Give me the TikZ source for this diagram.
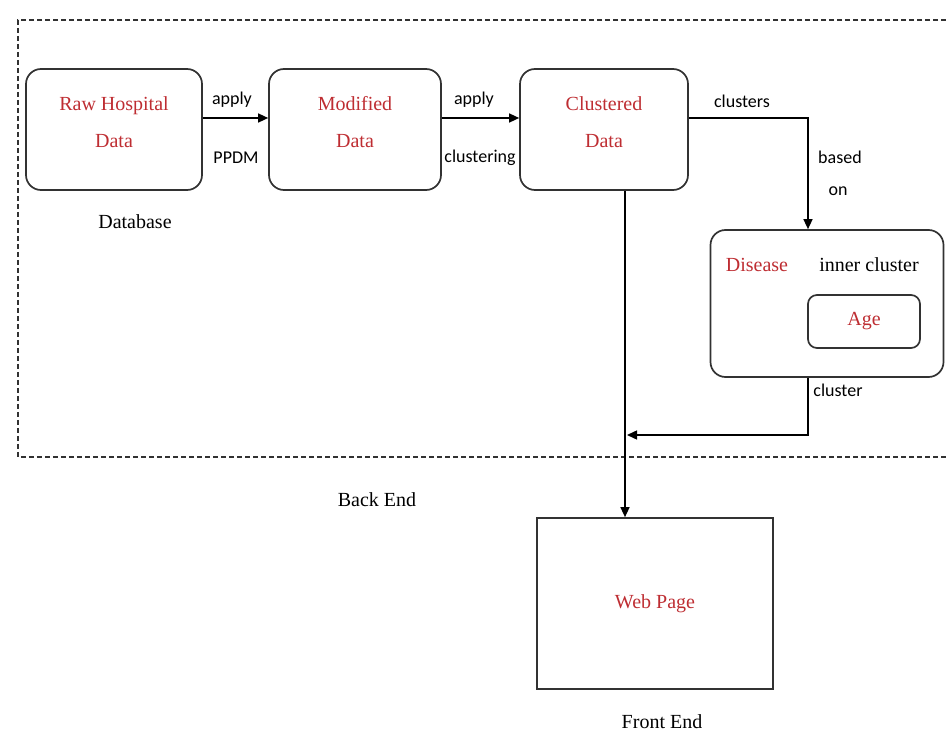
\documentclass[tikz,border=0pt]{standalone}
\usepackage{fontspec}
\setmainfont{Liberation Serif}
\newfontfamily\lblsans{Carlito}
\usetikzlibrary{arrows.meta}
\definecolor{boxred}{RGB}{190,45,50}
\definecolor{edge}{RGB}{50,50,50}
\begin{document}
\begin{tikzpicture}[x=1pt,y=-1pt,
  box/.style={draw=edge,line width=1.7pt,rounded corners=15pt,inner sep=0pt},
  boxtext/.style={align=center,text=boxred,font=\fontsize{20}{37}\selectfont,inner sep=0pt},
  sqbox/.style={draw=edge,line width=1.7pt,align=center,text=boxred,
    font=\fontsize{20}{24}\selectfont,inner sep=0pt},
  conn/.style={draw=black,line width=1.5pt,-{Triangle[length=10pt,width=9pt]}},
  sanslbl/.style={font=\lblsans\fontsize{18}{20}\selectfont,inner sep=0pt},
  seriflbl/.style={font=\fontsize{20}{24}\selectfont,inner sep=0pt},
  redlbl/.style={font=\fontsize{20}{24}\selectfont,inner sep=0pt,text=boxred},
  border/.style={draw=edge,line width=1.4pt,dash pattern=on 5pt off 3pt}]
\useasboundingbox (0,0) rectangle (946,735);

% dashed back-end border
\draw[border] (946,20) -- (18,20) -- (18,457) -- (946,457);

% boxes
\node[box,minimum width=176pt,minimum height=121pt] (raw) at (114,129.5) {};
\node[box,minimum width=172pt,minimum height=121pt] (mod) at (355,129.5) {};
\node[box,minimum width=168pt,minimum height=121pt] (clu) at (604,129.5) {};
\node[box,minimum width=233pt,minimum height=147pt] (dis) at (827,303.5) {};
\node[box,rounded corners=9pt,minimum width=112pt,minimum height=53pt] (age) at (864,321.5) {};
\node[sqbox,minimum width=236pt,minimum height=171pt] (web) at (655,603.5) {Web Page};

% box texts
\node[boxtext] (rawtxt) at ([yshift=7pt]raw.center) {Raw Hospital\\Data};
\node[boxtext] (modtxt) at ([yshift=7pt]mod.center) {Modified\\Data};
\node[boxtext] (clutxt) at ([yshift=7pt]clu.center) {Clustered\\Data};
\node[boxtext] (agetxt) at (age.center) {Age};

% texts
\node[redlbl] (distxt) at (757,265) {Disease};
\node[seriflbl] (inner) at (869,265) {inner cluster};
\node[seriflbl] (db) at (135,222) {Database};
\node[seriflbl] (be) at (377,500) {Back End};
\node[seriflbl] (fe) at (662,722) {Front End};

\node[sanslbl] (l1) at (232,100) {apply};
\node[sanslbl] (l2) at (236,158) {PPDM};
\node[sanslbl] (l3) at (474,100) {apply};
\node[sanslbl] (l4) at (480,158) {clustering};
\node[sanslbl] (l5) at (742,101) {clusters};
\node[sanslbl] (l6) at (840,157) {based};
\node[sanslbl] (l7) at (838,191) {on};
\node[sanslbl] (l8) at (838,390) {cluster};

% connectors
\coordinate (join) at (627,435);
\draw[conn] ([yshift=11.5pt]raw.east) -- ([yshift=11.5pt]mod.west);
\draw[conn] ([yshift=11.5pt]mod.east) -- ([yshift=11.5pt]clu.west);
\draw[conn] ([yshift=11.5pt]clu.east) -| ([xshift=-19pt]dis.north);
\draw[conn] ([xshift=21pt]clu.south) -- ([xshift=-30pt]web.north);
\draw[conn] ([xshift=-19pt]dis.south) |- (join);
\end{tikzpicture}
\end{document}
